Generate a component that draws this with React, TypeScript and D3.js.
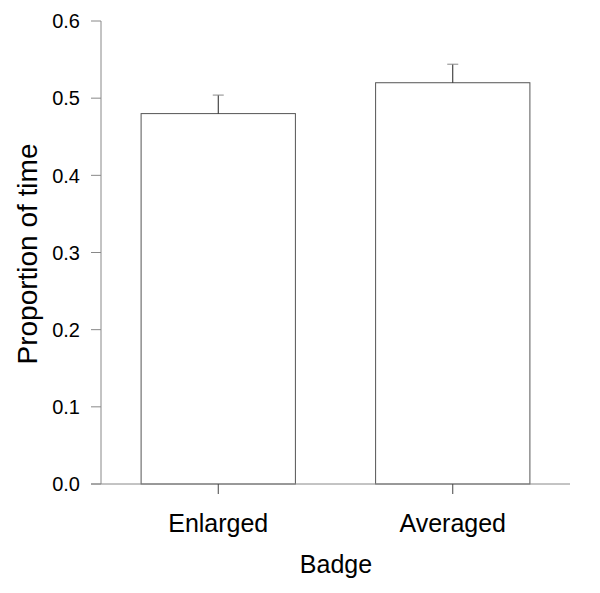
import React from "react";
import * as d3 from "d3";

const categories = ["Enlarged", "Averaged"];
const means = [0.48, 0.52];
const errors = [0.024, 0.024];
const yTicks = [0, 0.1, 0.2, 0.3, 0.4, 0.5, 0.6];

const App = () => {
  const width = 600;
  const height = 593;
  const left = 101;
  const right = 570;
  const top = 21;
  const bottom = 484;

  const x = d3.scaleBand<string>()
    .domain(categories)
    .range([left, right])
    .paddingInner(0.342)
    .paddingOuter(0.171);
  const y = d3.scaleLinear().domain([0, 0.6]).range([bottom, top]);

  const font = "Liberation Sans, Arial, sans-serif";
  const axisColor = "#888";

  return (
    <svg width={width} height={height} style={{ position: "absolute", left: 0, top: 0 }} fontFamily={font}>
      <rect width={width} height={height} fill="#fff" />
      {/* bars */}
      {categories.map((c, i) => (
        <g key={c}>
          <rect
            x={x(c)!}
            y={y(means[i])}
            width={x.bandwidth()}
            height={y(0) - y(means[i])}
            fill="#fff"
            stroke="#555"
            strokeWidth={1}
          />
          <line
            x1={x(c)! + x.bandwidth() / 2}
            x2={x(c)! + x.bandwidth() / 2}
            y1={y(means[i])}
            y2={y(means[i] + errors[i])}
            stroke="#222"
          />
          <line
            x1={x(c)! + x.bandwidth() / 2 - 5.5}
            x2={x(c)! + x.bandwidth() / 2 + 5.5}
            y1={y(means[i] + errors[i])}
            y2={y(means[i] + errors[i])}
            stroke="#888"
          />
        </g>
      ))}
      {/* y axis */}
      <line x1={left} x2={left} y1={y(0.6)} y2={y(0)} stroke={axisColor} />
      {yTicks.map(t => (
        <g key={t}>
          <line x1={left - 10} x2={left} y1={y(t)} y2={y(t)} stroke={axisColor} />
          <text x={left - 21} y={y(t)} dy="0.36em" textAnchor="end" fontSize={20} fill="#000">
            {d3.format(".1f")(t)}
          </text>
        </g>
      ))}
      {/* x axis */}
      <line x1={left - 10} x2={right} y1={bottom} y2={bottom} stroke={axisColor} />
      {categories.map(c => (
        <g key={c}>
          <line
            x1={x(c)! + x.bandwidth() / 2}
            x2={x(c)! + x.bandwidth() / 2}
            y1={bottom}
            y2={bottom + 10}
            stroke="#444"
          />
          <text x={x(c)! + x.bandwidth() / 2} y={532} textAnchor="middle" fontSize={25} fill="#000">
            {c}
          </text>
        </g>
      ))}
      <text x={336} y={573} textAnchor="middle" fontSize={25} fill="#000">
        Badge
      </text>
      <text
        transform={`translate(37,254) rotate(-90)`}
        textAnchor="middle"
        fontSize={28}
        fill="#000"
      >
        Proportion of time
      </text>
    </svg>
  );
};

export default App;
